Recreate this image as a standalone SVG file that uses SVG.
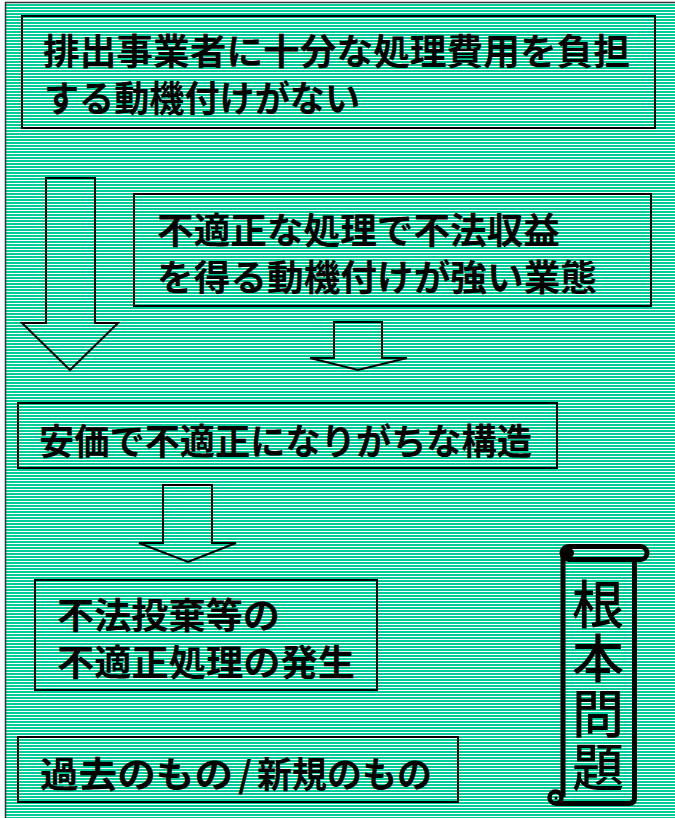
<svg xmlns="http://www.w3.org/2000/svg" width="675" height="818" viewBox="0 0 675 818">
  <defs>
    <pattern id="stripes" x="0" y="0" width="8" height="3" patternUnits="userSpaceOnUse">
      <rect width="8" height="3" fill="#00CC99"/>
      <rect y="0" width="8" height="1" fill="#FFFFFF"/>
    </pattern>
  </defs>
  <style>
    .box { fill: none; stroke: #000; stroke-width: 2; }
    .arrow { fill: none; stroke: #000; stroke-width: 2; stroke-linejoin: miter; }
    .t { font-family: "Noto Sans CJK JP", "Noto Sans CJK SC", sans-serif; font-weight: bold; font-size: 36px; fill: #000; }
    .s { font-family: "Noto Sans CJK JP", "Noto Sans CJK SC", sans-serif; font-weight: 500; font-size: 52px; fill: #000; writing-mode: vertical-rl; letter-spacing: 2.5px; }
    .scroll { fill: none; stroke: #000; stroke-width: 5; stroke-linejoin: round; }
  </style>

  <!-- background -->
  <rect x="0" y="0" width="675" height="818" fill="#FFFFFF"/>
  <rect x="5" y="2" width="670" height="816" fill="url(#stripes)" shape-rendering="crispEdges"/>
  <path d="M5.5,818 V2.5 H675" fill="none" stroke="#333" stroke-width="1.5"/>

  <g id="connectors">
    <polygon class="arrow" points="46,178 95,178 95,323 118,323 70,370 22,323 46,323"/>
    <polygon class="arrow" points="334,322 382,322 382,358 407,358 358,370 310,358 334,358"/>
    <polygon class="arrow" points="163,485 212,485 212,543 236,543 188,562 139,543 163,543"/>
  </g>

  <g id="node1">
    <rect class="box" x="22" y="16" width="633" height="112"/>
    <text class="t" x="43" y="65" textLength="587" lengthAdjust="spacingAndGlyphs">排出事業者に十分な処理費用を負担</text>
    <text class="t" x="44" y="112" textLength="316" lengthAdjust="spacingAndGlyphs">する動機付けがない</text>
  </g>

  <g id="node2">
    <rect class="box" x="134" y="194" width="517" height="112"/>
    <text class="t" x="157" y="244" textLength="403" lengthAdjust="spacingAndGlyphs">不適正な処理で不法収益</text>
    <text class="t" x="157" y="291" textLength="440" lengthAdjust="spacingAndGlyphs">を得る動機付けが強い業態</text>
  </g>

  <g id="node3">
    <rect class="box" x="18" y="403" width="539" height="65"/>
    <text class="t" x="39" y="455" textLength="493" lengthAdjust="spacingAndGlyphs">安価で不適正になりがちな構造</text>
  </g>

  <g id="node4">
    <rect class="box" x="35" y="580" width="342" height="110"/>
    <text class="t" x="57" y="629" textLength="223" lengthAdjust="spacingAndGlyphs">不法投棄等の</text>
    <text class="t" x="57" y="676" textLength="298" lengthAdjust="spacingAndGlyphs">不適正処理の発生</text>
  </g>

  <g id="node5">
    <rect class="box" x="18" y="737" width="440" height="65"/>
    <text class="t" x="40" y="788"><tspan textLength="193" lengthAdjust="spacingAndGlyphs">過去のもの</tspan><tspan x="238">/</tspan><tspan x="257" textLength="175" lengthAdjust="spacingAndGlyphs">新規のもの</tspan></text>
  </g>

  <g id="node6">
    <rect class="scroll" x="562" y="546.5" width="85" height="13" rx="6.5"/>
    <circle cx="569" cy="553" r="5" fill="#000"/>
    <path class="scroll" d="M563,553 V797 M634.5,560 V798 Q634.5,803.5 629,803.5 H555"/>
    <circle cx="555.5" cy="797.5" r="6" fill="none" stroke="#000" stroke-width="4.5"/>
    <circle cx="556" cy="798" r="1.5" fill="#000"/>
    <text class="s" x="598" y="578">根本問題</text>
  </g>
</svg>
